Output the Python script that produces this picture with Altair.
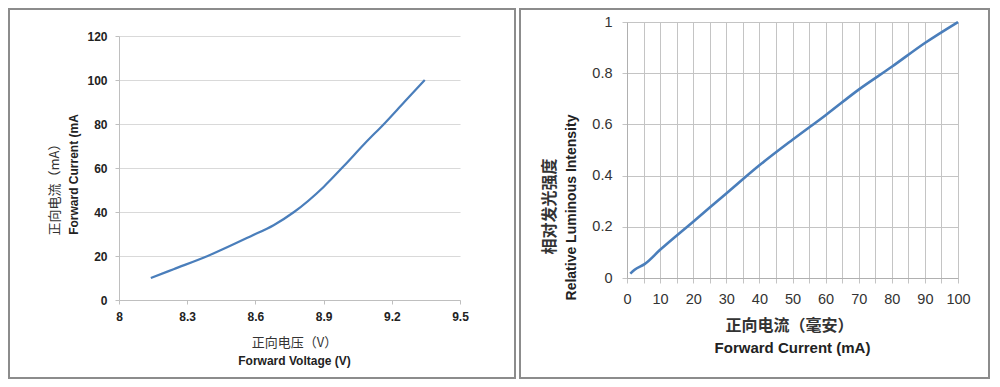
import altair as alt
import pandas as pd

# Left panel: forward voltage vs forward current
fv_volt = [8.14, 8.24, 8.39, 8.58, 8.68, 8.77, 8.9, 8.99, 9.08, 9.17, 9.255, 9.345]
fv_curr = [10, 14, 20, 29, 34, 40, 51.4, 61, 71, 80.5, 90, 100]
left_x_ticks = [8, 8.3, 8.6, 8.9, 9.2, 9.5]
left_y_ticks = [0, 20, 40, 60, 80, 100, 120]

# Right panel: forward current vs relative luminous intensity
li_curr = [1, 2.3, 5.3, 10, 20, 30, 40, 50, 60, 70, 80, 90, 100]
li_int = [0.017, 0.032, 0.054, 0.11, 0.22, 0.33, 0.44, 0.54, 0.636, 0.736, 0.825, 0.918, 1.0]
right_x_ticks = list(range(0, 101, 5))
right_y_ticks = [0, 0.2, 0.4, 0.6, 0.8, 1]

LINE = "#4a7ebb"
FRAME = "#8c8c8c"
EN = "Liberation Sans"
CJK = "Noto Sans CJK SC"

left_df = pd.DataFrame({"v": fv_volt, "i": fv_curr})
right_df = pd.DataFrame({"c": li_curr, "r": li_int})
one = pd.DataFrame({"k": [0]})

# ---------------- left panel ----------------
LW, LH = 341, 278
lx_scale = alt.Scale(domain=[8, 9.5], nice=False, zero=False)
ly_scale = alt.Scale(domain=[0, 120], nice=False, range=[278, 14])

lbase = alt.Chart(left_df)
left_line = lbase.mark_line(color=LINE, strokeWidth=2.2, interpolate="monotone").encode(
    x=alt.X("v:Q", scale=lx_scale, axis=alt.Axis(
        values=left_x_ticks, format="~g", grid=False, labelFlush=False,
        domainColor="#bfbfbf", tickColor="#bfbfbf", tickSize=4,
        labelFont=EN, labelFontSize=12, labelFontWeight="bold", labelColor="#222",
        labelPadding=7,
        title="正向电压（V）", titleFont=CJK, titleFontSize=13, titleFontWeight="normal",
        titleColor="#333", titleX=175, titleY=42, titleBaseline="middle", titleAlign="center")),
    y=alt.Y("i:Q", scale=ly_scale, axis=alt.Axis(
        values=left_y_ticks, grid=True, gridColor="#d9d9d9", labelFlush=False,
        domainColor="#bfbfbf", tickColor="#bfbfbf", tickSize=4,
        labelFont=EN, labelFontSize=12, labelFontWeight="bold", labelColor="#222",
        labelPadding=8,
        title="正向电流（mA）", titleFont=CJK, titleFontSize=13, titleFontWeight="normal",
        titleColor="#333", titleX=-65, titleY=164, titleAngle=270,
        titleBaseline="middle", titleAlign="center")),
)
left_en = lbase.mark_line(opacity=0).encode(
    x=alt.X("v:Q", scale=lx_scale, axis=alt.Axis(
        orient="bottom", labels=False, ticks=False, domain=False, grid=False,
        title="Forward Voltage (V)", titleFont=EN, titleFontSize=12, titleFontWeight="bold",
        titleColor="#222", titleX=175, titleY=60, titleBaseline="middle", titleAlign="center")),
    y=alt.Y("i:Q", scale=ly_scale, axis=alt.Axis(
        orient="left", labels=False, ticks=False, domain=False, grid=False,
        title="Forward Current (mA", titleFont=EN, titleFontSize=12, titleFontWeight="bold",
        titleColor="#222", titleX=-46, titleY=152, titleAngle=270,
        titleBaseline="middle", titleAlign="center")),
)
left_frame = alt.Chart(one).mark_rect(filled=False, stroke=FRAME, strokeWidth=2).encode(
    x=alt.value(-110), x2=alt.value(396), y=alt.value(-13), y2=alt.value(356))

left = alt.layer(left_frame, left_line, left_en).resolve_axis(
    x="independent", y="independent").properties(width=LW, height=LH)

# ---------------- right panel ----------------
RW, RH = 331, 256
rx_scale = alt.Scale(domain=[0, 100], nice=False)
ry_scale = alt.Scale(domain=[0, 1], nice=False)

rbase = alt.Chart(right_df)
right_line = rbase.mark_line(color=LINE, strokeWidth=2.6, interpolate="monotone").encode(
    x=alt.X("c:Q", scale=rx_scale, axis=alt.Axis(
        values=right_x_ticks, labelExpr="datum.value % 10 == 0 ? datum.label : ''",
        grid=True, gridColor="#c4c4c4", labelFlush=False, labelOverlap=False,
        domainColor="#b0b0b0", tickColor="#c4c4c4", tickSize=5,
        labelFont=EN, labelFontSize=14.5, labelColor="#333", labelPadding=9,
        title="正向电流（毫安）", titleFont=CJK, titleFontSize=16, titleFontWeight="bold",
        titleColor="#333", titleX=162, titleY=47, titleBaseline="middle", titleAlign="center")),
    y=alt.Y("r:Q", scale=ry_scale, axis=alt.Axis(
        values=right_y_ticks, format="~g", grid=True, gridColor="#c4c4c4", labelFlush=False,
        domainColor="#b0b0b0", tickColor="#c4c4c4", tickSize=5,
        labelFont=EN, labelFontSize=14.5, labelColor="#333", labelPadding=10,
        title="相对发光强度", titleFont=CJK, titleFontSize=16, titleFontWeight="bold",
        titleColor="#333", titleX=-78, titleY=184, titleAngle=270,
        titleBaseline="middle", titleAlign="center")),
)
right_en = rbase.mark_line(opacity=0).encode(
    x=alt.X("c:Q", scale=rx_scale, axis=alt.Axis(
        orient="bottom", labels=False, ticks=False, domain=False, grid=False,
        title="Forward Current (mA)", titleFont=EN, titleFontSize=15, titleFontWeight="bold",
        titleColor="#222", titleX=165, titleY=69, titleBaseline="middle", titleAlign="center")),
    y=alt.Y("r:Q", scale=ry_scale, axis=alt.Axis(
        orient="left", labels=False, ticks=False, domain=False, grid=False,
        title="Relative Luminous Intensity", titleFont=EN, titleFontSize=14, titleFontWeight="bold",
        titleColor="#222", titleX=-56, titleY=185, titleAngle=270,
        titleBaseline="middle", titleAlign="center")),
)
right_frame = alt.Chart(one).mark_rect(filled=False, stroke=FRAME, strokeWidth=2).encode(
    x=alt.value(-107), x2=alt.value(362), y=alt.value(-13), y2=alt.value(356))

right = alt.layer(right_frame, right_line, right_en).resolve_axis(
    x="independent", y="independent").properties(width=RW, height=RH)

chart = alt.hconcat(left, right, spacing=167, bounds="flush").properties(
    padding={"left": 0, "top": 0, "right": 0, "bottom": 0},
    background="white",
).configure_view(stroke=None)

chart.save("out.html", embed_options={"renderer": "svg", "actions": False})
